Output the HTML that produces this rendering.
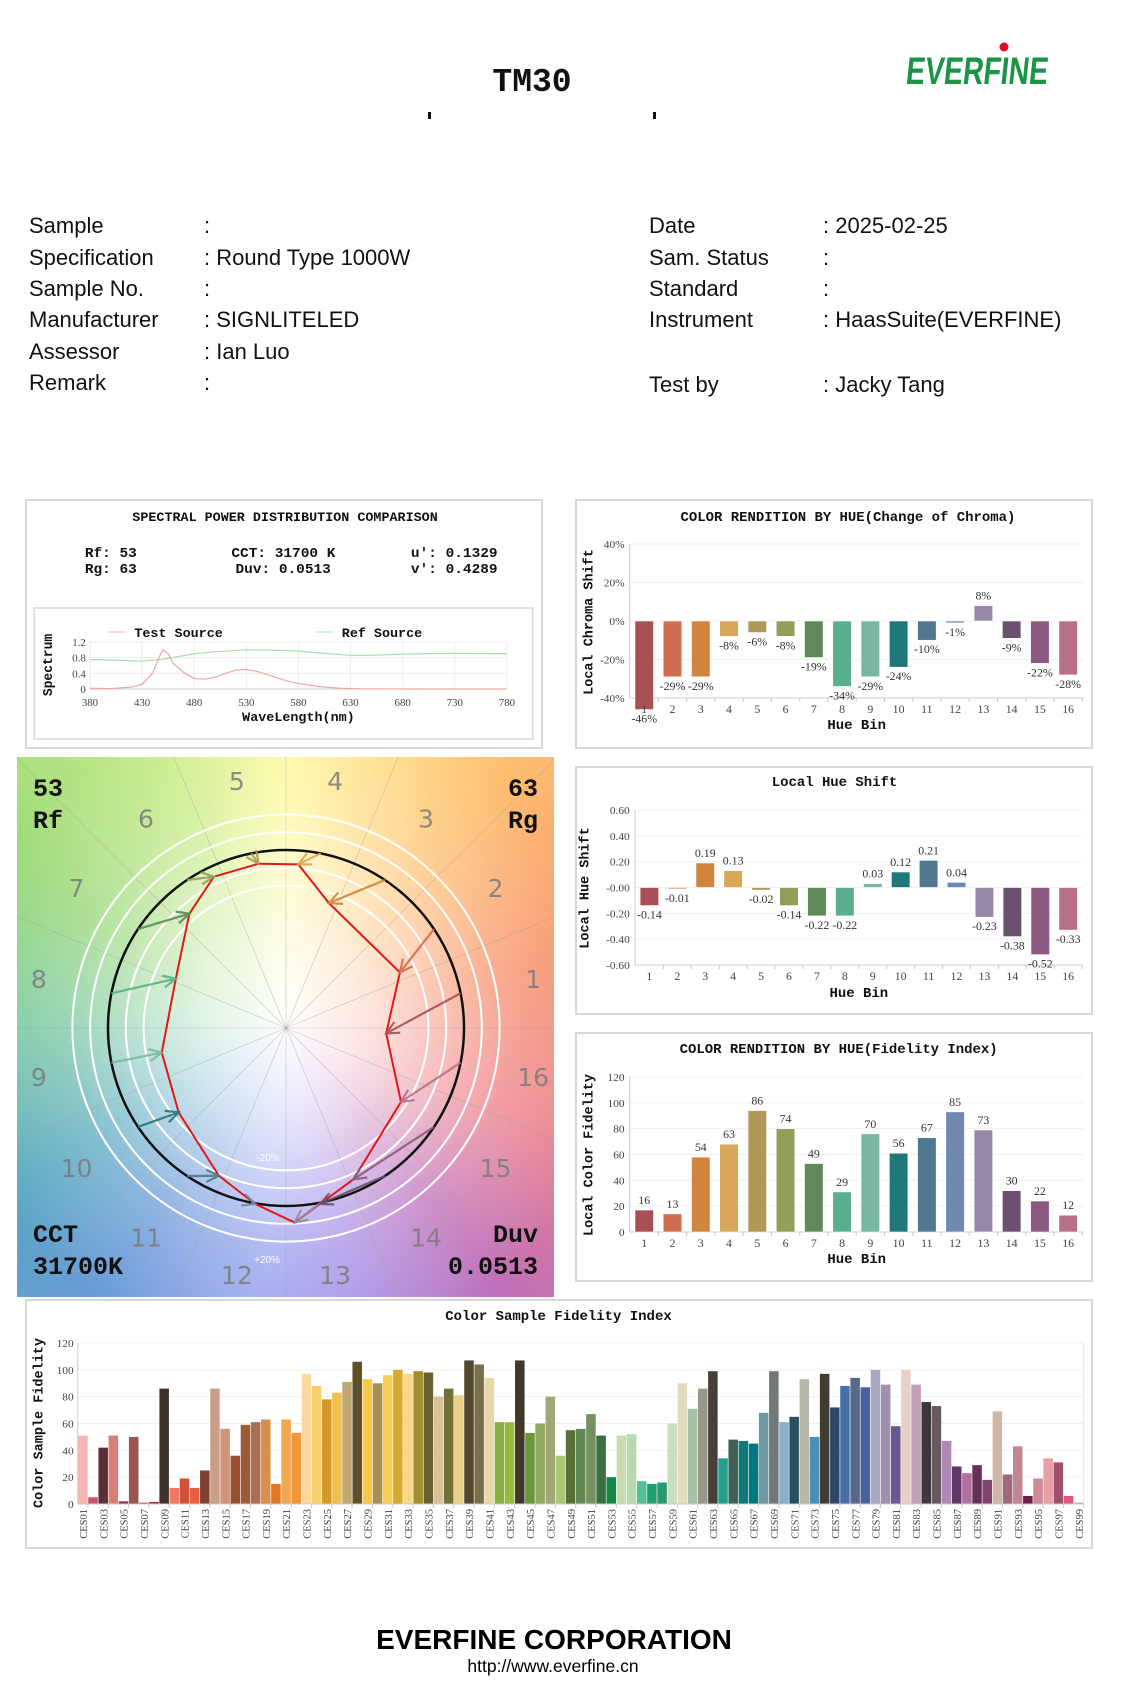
<!DOCTYPE html>
<html><head><meta charset="utf-8"><title>TM30 Report</title>
<style>
html,body{margin:0;padding:0;background:#fff;}
svg{display:block;}
.mono{font-family:"Liberation Mono",monospace;font-weight:bold;}
.sans{font-family:"Liberation Sans",sans-serif;}
.serif{font-family:"Liberation Serif",serif;}
</style></head>
<body>
<svg id="page" xmlns="http://www.w3.org/2000/svg" width="1121" height="1682" viewBox="0 0 1121 1682">
<defs>
<clipPath id="cvgClip"><rect x="17" y="757" width="537" height="540"/></clipPath>
</defs>
<text x="532" y="91" text-anchor="middle" class="mono" font-size="33" fill="#111">TM30</text>
<rect x="428" y="112" width="3" height="7" fill="#111"/>
<rect x="653" y="112" width="3" height="7" fill="#111"/>
<g>
<text x="0" y="0" text-anchor="middle" font-family="Liberation Sans Narrow, Liberation Sans, sans-serif" font-weight="bold" font-size="35" fill="#1a9447" textLength="142" lengthAdjust="spacingAndGlyphs" transform="translate(976,84) skewX(-6) scale(1,1.1)">EVERFINE</text>
<circle cx="1004" cy="47" r="4.5" fill="#d8102c"/>
</g>
<g class="sans" font-size="22" fill="#111">
<text x="29" y="233">Sample</text><text x="204" y="233">:</text>
<text x="29" y="265">Specification</text><text x="204" y="265">: Round Type 1000W</text>
<text x="29" y="296">Sample No.</text><text x="204" y="296">:</text>
<text x="29" y="327">Manufacturer</text><text x="204" y="327">: SIGNLITELED</text>
<text x="29" y="359">Assessor</text><text x="204" y="359">: Ian Luo</text>
<text x="29" y="390">Remark</text><text x="204" y="390">:</text>
<text x="649" y="233">Date</text><text x="823" y="233">: 2025-02-25</text>
<text x="649" y="265">Sam. Status</text><text x="823" y="265">:</text>
<text x="649" y="296">Standard</text><text x="823" y="296">:</text>
<text x="649" y="327">Instrument</text><text x="823" y="327">: HaasSuite(EVERFINE)</text>
<text x="649" y="392">Test by</text><text x="823" y="392">: Jacky Tang</text>
</g>

<g transform="translate(26,0) scale(1.032,1) translate(-26,0)">
<g id="spd">
<rect x="26" y="500" width="500" height="248" fill="#fff" stroke="#d8d8d8" stroke-width="2"/>
<text x="277" y="521" text-anchor="middle" class="mono" font-size="13" fill="#111">SPECTRAL POWER DISTRIBUTION COMPARISON</text>
<g class="mono" font-size="14" fill="#111">
<text x="83" y="557">Rf: 53</text><text x="83" y="573">Rg: 63</text>
<text x="225" y="557">CCT: 31700 K</text><text x="229" y="573">Duv: 0.0513</text>
<text x="399" y="557">u': 0.1329</text><text x="399" y="573">v': 0.4289</text>
</g>
<rect x="34" y="608" width="483" height="131" fill="#fff" stroke="#d8d8d8" stroke-width="1.5"/>
</g>
</g>

<g transform="translate(576,0) scale(1.034,1) translate(-576,0)">
<g id="chroma">
<rect x="576" y="500" width="499" height="248" fill="#fff" stroke="#d8d8d8" stroke-width="2"/>
<text x="839" y="521" text-anchor="middle" class="mono" font-size="13.5" fill="#111">COLOR RENDITION BY HUE(Change of Chroma)</text>
</g>
<g id="hue">
<rect x="576" y="767" width="499" height="247" fill="#fff" stroke="#d8d8d8" stroke-width="2"/>
<text x="826" y="786" text-anchor="middle" class="mono" font-size="13.5" fill="#111">Local Hue Shift</text>
</g>
<g id="fid">
<rect x="576" y="1033" width="499" height="248" fill="#fff" stroke="#d8d8d8" stroke-width="2"/>
<text x="830" y="1053" text-anchor="middle" class="mono" font-size="13.5" fill="#111">COLOR RENDITION BY HUE(Fidelity Index)</text>
</g>
</g>

<g id="cvg" clip-path="url(#cvgClip)">
<foreignObject x="17" y="757" width="537" height="540">
<div xmlns="http://www.w3.org/1999/xhtml" style="width:537px;height:540px;background:radial-gradient(circle at 269px 271px, rgba(255,255,255,1) 0px, rgba(255,255,255,0.75) 90px, rgba(255,255,255,0.25) 220px, rgba(255,255,255,0) 330px), conic-gradient(from 0deg at 269px 271px, #fffaa0 0deg, #ffc070 40deg, #f89068 75deg, #ee8088 110deg, #c070b8 140deg, #a890e8 165deg, #9aa4f0 185deg, #6a9ad8 215deg, #58a8c0 240deg, #78c8a0 270deg, #98d878 300deg, #c8ec88 335deg, #fffaa0 360deg);"></div>
</foreignObject>
</g>

<g transform="translate(26,0) scale(1.036,1) translate(-26,0)">
<g id="ces">
<rect x="26" y="1300" width="1029" height="248" fill="#fff" stroke="#d8d8d8" stroke-width="2"/>
<text x="540" y="1320" text-anchor="middle" class="mono" font-size="13.5" fill="#111">Color Sample Fidelity Index</text>
</g>
</g>

<text x="554" y="1649" text-anchor="middle" class="sans" font-weight="bold" font-size="28" fill="#000">EVERFINE CORPORATION</text>
<text x="553" y="1672" text-anchor="middle" class="sans" font-size="17.5" fill="#000">http://www.everfine.cn</text>
</svg>

<script>
const hueBins = ["1","2","3","4","5","6","7","8","9","10","11","12","13","14","15","16"];
const chromaShift = [-46,-29,-29,-8,-6,-8,-19,-34,-29,-24,-10,-1,8,-9,-22,-28];
const chromaLabels = ["-46%","-29%","-29%","-8%","-6%","-8%","-19%","-34%","-29%","-24%","-10%","-1%","8%","-9%","-22%","-28%"];
const hueShift = [-0.14,-0.01,0.19,0.13,-0.02,-0.14,-0.22,-0.22,0.03,0.12,0.21,0.04,-0.23,-0.38,-0.52,-0.33];
const hueLabels = ["-0.14","-0.01","0.19","0.13","-0.02","-0.14","-0.22","-0.22","0.03","0.12","0.21","0.04","-0.23","-0.38","-0.52","-0.33"];
const fidelityBars = [17,14,58,68,94,80,53,31,76,61,73,93,79,32,24,13];
const fidelityLabels = ["16","13","54","63","86","74","49","29","70","56","67","85","73","30","22","12"];
const chromaTicks = [40,20,0,-20,-40];
const chromaTickLabels = ["40%","20%","0%","-20%","-40%"];
const hueTicks = [0.6,0.4,0.2,0,-0.2,-0.4,-0.6];
const hueTickLabels = ["0.60","0.40","0.20","-0.00","-0.20","-0.40","-0.60"];
const fidTicks = [120,100,80,60,40,20,0];
const spdWl = [380,400,420,430,440,447,450,455,460,470,480,490,500,510,520,530,540,550,560,570,580,600,620,640,700,780];
const spdTest = [0.02,0.01,0.05,0.12,0.4,0.85,1.0,0.9,0.65,0.42,0.27,0.25,0.3,0.4,0.48,0.5,0.45,0.37,0.28,0.2,0.14,0.06,0.02,0.005,0,0];
const refWl = [380,400,430,450,480,500,530,560,580,600,630,650,680,700,730,780];
const spdRef = [0.75,0.74,0.71,0.76,0.9,0.95,1.0,0.99,0.97,0.92,0.86,0.86,0.89,0.9,0.91,0.9];
const spdTicksX = [380,430,480,530,580,630,680,730,780];
const spdTicksY = [0,0.4,0.8,1.2];
const spdTickYLabels = ["0","0.4","0.8","1.2"];
const testA = [0.563,0.640,0.241,0.069,-0.154,-0.405,-0.543,-0.619,-0.698,-0.603,-0.377,-0.174,0.049,0.192,0.379,0.646];
const testB = [-0.030,0.312,0.702,0.919,0.923,0.850,0.642,0.277,-0.138,-0.474,-0.830,-0.988,-1.093,-0.988,-0.850,-0.415];
const cesValues = [51,5,42,51,2,50,1,1.5,86,12,19,12,25,86,56,36,59,61,63,15,63,53,97,88,78,83,91,106,93,90,96,100,97,99,98,80,86,81,107,104,94,61,61,107,53,60,80,36,55,56,67,51,20,51,52,17,15,16,60,90,71,86,99,34,48,47,45,68,99,61,65,93,50,97,72,88,94,87,100,89,58,100,89,76,73,47,28,23,29,18,69,22,43,6,19,34,31,6,1];
const cesTicks = [0,20,40,60,80,100,120];

const hueColors = ["#a85055","#d06c50","#d0843c","#d8a858","#b09858","#90a058","#5e8a58","#5ab08c","#78b8a0","#207878","#507890","#6e88b0","#9888a8","#6c5070","#8a5a80","#b87088"];
const cesColors = ["#f5b5b0","#d05070","#5a3035","#d88078","#a03040","#9a5550","#c04050","#a02838","#40302a","#f07860","#d05038","#e86040","#804030","#c8a088","#d09478","#985030","#a05a38","#a87050","#d89050","#e07828","#f0a850","#f09838","#fcd8a0","#f8d070","#d89828","#f0c050","#c0a870","#605028","#f8c848","#a89050","#f8d050","#d8a830","#f8d888","#a09030","#686030","#d8c098","#707038","#e8d088","#504830","#787048","#e8d8a8","#88b040","#98b840","#403828","#689838","#90a860","#a0a878","#a8c878","#587038","#608850","#789060","#3a7040","#10884a","#c8dcb0","#b8d8b0","#50c098","#20a070","#289870","#c8e0c0","#e0dcc0","#a8c0a8","#989888","#484038","#20a090","#406058","#107878","#007880","#7098a0","#707878","#88b0c8","#285060","#b8b8a8","#4890b8","#403c30","#304868","#4870a8","#586888","#4860a0","#a8a8c0","#a090b0","#6a5890","#e8d0c8","#c0a0b8","#403838","#685860","#b088b8","#603868","#b070a0","#683058","#804070","#d0b8a8","#a06878","#c08890","#702048","#d08898","#e8a0a8","#a05068","#e05880","#c0a0a0"];

const NS = "http://www.w3.org/2000/svg";
function mk(tag, attrs, parent){
  const e = document.createElementNS(NS, tag);
  for (const k in attrs) e.setAttribute(k, attrs[k]);
  parent.appendChild(e);
  return e;
}
function txt(parent, x, y, s, attrs){
  const e = mk("text", Object.assign({x:x, y:y}, attrs||{}), parent);
  e.textContent = s;
  return e;
}

function hueChart(g, cfg){
  const yS = v => cfg.y0 + (v - cfg.v0) * (cfg.y1 - cfg.y0) / (cfg.v1 - cfg.v0);
  const xS = i => cfg.xFirst + i * (cfg.xLast - cfg.xFirst) / 15;
  const step = (cfg.xLast - cfg.xFirst) / 15;
  cfg.ticks.forEach((t, i) => {
    const yy = yS(t);
    const gl = mk("line", {x1:cfg.left, x2:cfg.right, y1:yy, y2:yy, stroke:"#f0f0f0", "stroke-width":1}, g);
    
    
    const tl = txt(g, cfg.left - 5, yy + 4, cfg.tickLabels[i], {"text-anchor":"end", "font-size":11, fill:"#444", "font-family":"Liberation Serif, serif"});
    
    
  });
  const ax = mk("line", {x1:cfg.left, x2:cfg.left, y1:cfg.top, y2:cfg.bottom, stroke:"#ccc", "stroke-width":1}, g);
  
  
  const bx = mk("line", {x1:cfg.left, x2:cfg.right, y1:cfg.bottom, y2:cfg.bottom, stroke:"#ccc", "stroke-width":1}, g);
  
  
  const z = yS(cfg.base);
  cfg.values.forEach((v, i) => {
    const cx = xS(i);
    const y = yS(v);
    const b = mk("rect", {x:cx - 9, y:Math.min(y, z), width:18, height:Math.max(1, Math.abs(z - y)), fill:hueColors[i], stroke:"#fff", "stroke-width":0.6}, g);
    
    
    const ly = v >= cfg.base ? y - 6 : y + 13;
    const l = txt(g, cx, ly, cfg.labels[i], {"text-anchor":"middle", "font-size":11.5, fill:"#333", "font-family":"Liberation Serif, serif"});
    
    
    const xl = txt(g, cx, cfg.bottom + 15, hueBins[i], {"text-anchor":"middle", "font-size":11.5, fill:"#444", "font-family":"Liberation Serif, serif"});
    
    
    const tk = mk("line", {x1:cx + step/2, x2:cx + step/2, y1:cfg.bottom, y2:cfg.bottom + 4, stroke:"#ccc"}, g);
    
    
  });
  const xt = txt(g, (cfg.left + cfg.right)/2, cfg.xTitleY, "Hue Bin", {"text-anchor":"middle", "font-size":13.5, fill:"#111", class:"mono"});
  
  
  const yt = txt(g, 0, 0, cfg.yTitle, {"text-anchor":"middle", "font-size":13.5, fill:"#111", class:"mono", transform:"translate(" + cfg.yTitleX + "," + cfg.yTitleY + ") rotate(-90)"});
  
  
}

hueChart(document.getElementById("chroma"), {
  values: chromaShift, labels: chromaLabels, ticks: chromaTicks, tickLabels: chromaTickLabels,
  v0:40, v1:-40, y0:544, y1:698, base:0, left:628, right:1067, top:544, bottom:698,
  xFirst:642, xLast:1052, xTitleY:729, yTitle:"Local Chroma Shift", yTitleX:592, yTitleY:622
});
hueChart(document.getElementById("hue"), {
  values: hueShift, labels: hueLabels, ticks: hueTicks, tickLabels: hueTickLabels,
  v0:0.6, v1:-0.6, y0:810, y1:965, base:0, left:633, right:1066, top:810, bottom:965,
  xFirst:647, xLast:1052, xTitleY:997, yTitle:"Local Hue Shift", yTitleX:588, yTitleY:888
});
hueChart(document.getElementById("fid"), {
  values: fidelityBars, labels: fidelityLabels, ticks: fidTicks, tickLabels: fidTicks.map(String),
  v0:120, v1:0, y0:1077, y1:1232, base:0, left:628, right:1067, top:1077, bottom:1232,
  xFirst:642, xLast:1052, xTitleY:1263, yTitle:"Local Color Fidelity", yTitleX:592, yTitleY:1155
});

(function(){
  const g = document.getElementById("spd");
  const xS = w => 88 + (w - 380) * (492 - 88) / 400;
  const yS = v => 689 - v * (689 - 642) / 1.2;
  spdTicksX.forEach(w => {
    const gl = mk("line", {x1:xS(w), x2:xS(w), y1:642, y2:689, stroke:"#eeeeee"}, g);
    
    
    const t = txt(g, xS(w), 706, String(w), {"text-anchor":"middle", "font-size":10.5, fill:"#444", "font-family":"Liberation Serif, serif"});
    
    
  });
  spdTicksY.forEach((v, i) => {
    const gl = mk("line", {x1:88, x2:492, y1:yS(v), y2:yS(v), stroke:"#eeeeee"}, g);
    
    
    const t = txt(g, 84, yS(v) + 4, spdTickYLabels[i], {"text-anchor":"end", "font-size":10.5, fill:"#444", "font-family":"Liberation Serif, serif"});
    
    
  });
  const ax = mk("line", {x1:88, x2:492, y1:689, y2:689, stroke:"#ccc"}, g);
  
  
  const pr = mk("polyline", {points: refWl.map((w,i)=>xS(w)+","+yS(spdRef[i])).join(" "), fill:"none", stroke:"#a8e0a8", "stroke-width":1.2}, g);
  
  
  const pt = mk("polyline", {points: spdWl.map((w,i)=>xS(w)+","+yS(spdTest[i])).join(" "), fill:"none", stroke:"#f0a8a8", "stroke-width":1.2, "stroke-linejoin":"round"}, g);
  
  
  const l1 = mk("line", {x1:106, x2:122, y1:632, y2:632, stroke:"#f0b0b0"}, g);
  
  
  const t1 = txt(g, 131, 637, "Test Source", {class:"mono", "font-size":13, fill:"#111"});
  
  
  const l2 = mk("line", {x1:307, x2:322, y1:632, y2:632, stroke:"#b0e8b0"}, g);
  
  
  const t2 = txt(g, 332, 637, "Ref Source", {class:"mono", "font-size":13, fill:"#111"});
  
  
  const xt = txt(g, 290, 721, "WaveLength(nm)", {"text-anchor":"middle", class:"mono", "font-size":13, fill:"#111"});
  
  
  const yt = txt(g, 0, 0, "Spectrum", {"text-anchor":"middle", class:"mono", "font-size":13, fill:"#111", transform:"translate(51,665) rotate(-90)"});
  
  
})();

(function(){
  const g = document.getElementById("cvg");
  const cx = 286, cy = 1028, R = 178;
  for (let k = 0; k < 16; k++) {
    const a = k * Math.PI / 8;
    const ln = mk("line", {x1:cx, y1:cy, x2:cx + 420*Math.cos(a), y2:cy - 420*Math.sin(a), stroke:"#a0a0a0", "stroke-width":0.6, opacity:0.6}, g);
    
    
  }
  [0.8, 0.9, 1.1, 1.2].forEach(f => {
    const c = mk("circle", {cx:cx, cy:cy, r:R*f, fill:"none", stroke:"#ffffff", "stroke-width":2}, g);
    
    
  });
  const rc = mk("circle", {cx:cx, cy:cy, r:R, fill:"none", stroke:"#111", "stroke-width":2.5}, g);
  
  
  const tp = mk("polygon", {points: testA.map((a,i)=>(cx + a*R)+","+(cy - testB[i]*R)).join(" "), fill:"none", stroke:"#e01818", "stroke-width":2}, g);
  
  
  for (let i = 0; i < 16; i++) {
    const th = (i + 0.5) * Math.PI / 8;
    const x0 = cx + R*Math.cos(th), y0 = cy - R*Math.sin(th);
    const x1 = cx + testA[i]*R, y1 = cy - testB[i]*R;
    const ang = Math.atan2(y1 - y0, x1 - x0);
    const h = 14, sp = 0.45;
    const ar = mk("g", {stroke:hueColors[i], "stroke-width":2.2, fill:"none", opacity:0.9}, g);
    
    
    mk("line", {x1:x0, y1:y0, x2:x1, y2:y1}, ar);
    mk("polyline", {points:(x1 - h*Math.cos(ang - sp))+","+(y1 - h*Math.sin(ang - sp))+" "+x1+","+y1+" "+(x1 - h*Math.cos(ang + sp))+","+(y1 - h*Math.sin(ang + sp))}, ar);
    const lr = 252;
    const bl = txt(g, cx + lr*Math.cos(th), cy - lr*Math.sin(th) + 9, hueBins[i], {"text-anchor":"middle", "font-size":25, fill:"#7a7a7a", "fill-opacity":0.85, "font-family":"DejaVu Sans, sans-serif"});
    
    
  }
  const m1 = txt(g, 268, 1161, "-20%", {"text-anchor":"middle", "font-size":10, fill:"#fff", "font-family":"Liberation Sans, sans-serif"});
  
  
  const m2 = txt(g, 267, 1263, "+20%", {"text-anchor":"middle", "font-size":10, fill:"#fff", "font-family":"Liberation Sans, sans-serif"});
  
  
  const corner = [["53",33,796,"start"],["Rf",33,828,"start"],["63",538,796,"end"],["Rg",538,828,"end"],["CCT",33,1242,"start"],["31700K",33,1274,"start"],["Duv",538,1242,"end"],["0.0513",538,1274,"end"]];
  corner.forEach(c => {
    const t = txt(g, c[1], c[2], c[0], {"text-anchor":c[3], class:"mono", "font-size":25, fill:"#111"});
    
    
  });
})();

(function(){
  const g = document.getElementById("ces");
  const left = 76, right = 1047, y0 = 1504, y120 = 1343;
  const yS = v => y0 - v * (y0 - y120) / 120;
  const bw = (right - left) / cesValues.length;
  cesTicks.forEach(t => {
    const gl = mk("line", {x1:left, x2:right, y1:yS(t), y2:yS(t), stroke:"#f0f0f0"}, g);
    
    
    const tl = txt(g, left - 4, yS(t) + 4, String(t), {"text-anchor":"end", "font-size":11, fill:"#444", "font-family":"Liberation Serif, serif"});
    
    
  });
  const ax = mk("line", {x1:left, x2:left, y1:y120, y2:y0, stroke:"#ccc"}, g);
  
  
  const ax2 = mk("line", {x1:right, x2:right, y1:y120, y2:y0, stroke:"#e4e4e4"}, g);
  
  
  cesValues.forEach((v, i) => {
    const x = left + i * bw;
    const b = mk("rect", {x:x + 0.3, y:yS(v), width:bw - 0.6, height:y0 - yS(v), fill:cesColors[i]}, g);
    
    
    if (i % 2 === 0) {
      const cxl = x + bw/2;
      const t = txt(g, 0, 0, "CES" + String(i + 1).padStart(2, "0"), {"text-anchor":"end", "font-size":10.5, fill:"#444", "font-family":"Liberation Serif, serif", transform:"translate(" + (cxl + 4) + ",1509) rotate(-90)"});
      
      
      const tk = mk("line", {x1:x + bw, x2:x + bw, y1:y0, y2:y0 + 4, stroke:"#ccc"}, g);
      
      
    }
  });
  const bx = mk("line", {x1:left, x2:right, y1:y0, y2:y0, stroke:"#ccc"}, g);
  
  
  const yt = txt(g, 0, 0, "Color Sample Fidelity", {"text-anchor":"middle", class:"mono", "font-size":13.5, fill:"#111", transform:"translate(42,1423) rotate(-90)"});
  
  
})();
</script>
</body></html>
